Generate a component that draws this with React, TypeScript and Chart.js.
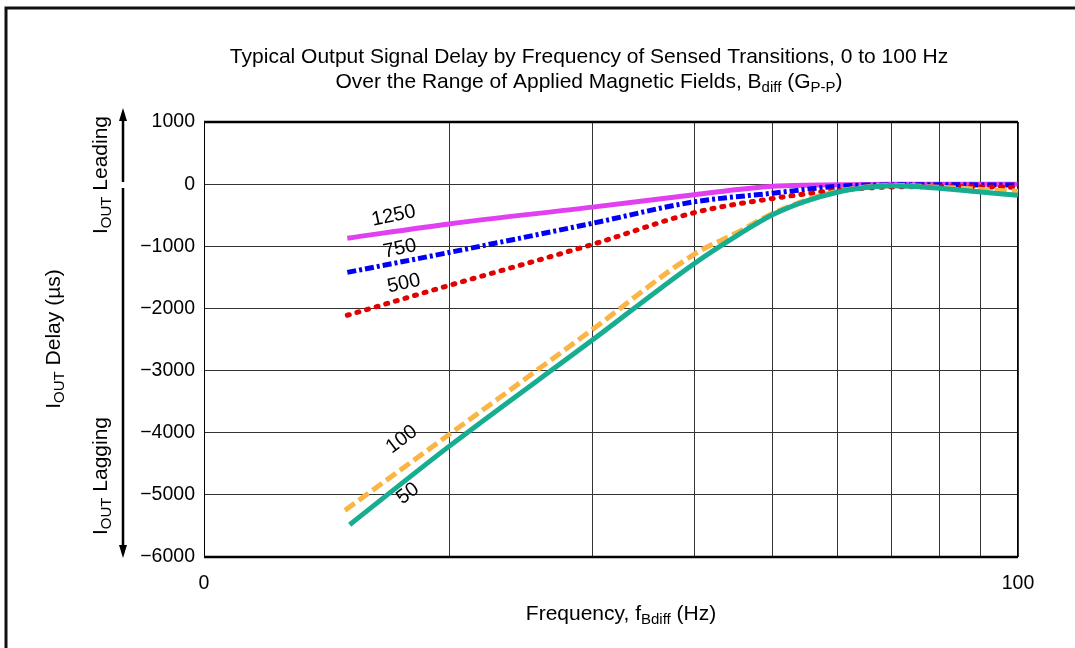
import React, { useEffect, useRef } from 'react';
import { Chart, registerables } from 'chart.js';

Chart.register(...registerables);

const FONT = '"Liberation Sans", Arial, Helvetica, sans-serif';

// Frequency (Hz) and output delay (µs) for each applied field B_diff (G P-P)
const FREQ_1250 = [15, 20, 30, 40, 50, 60, 70, 80, 100];
const DELAY_1250 = [-870, -640, -370, -170, -35, -10, 0, 0, 0];

const FREQ_750 = [15, 20, 30, 40, 50, 60, 70, 80, 100];
const DELAY_750 = [-1420, -1100, -630, -285, -145, -35, -12, -10, -15];

const FREQ_500 = [15, 20, 30, 40, 50, 60, 70, 80, 90, 100];
const DELAY_500 = [-2110, -1630, -970, -460, -230, -100, -45, -40, -45, -50];

const FREQ_100 = [14.9, 20, 30, 40, 45, 50, 55, 60, 65, 70, 80, 90, 100];
const DELAY_100 = [-5250, -4030, -2340, -1130, -790, -470, -255, -115, -45, -20, -50, -85, -115];

const FREQ_50 = [15.1, 20, 30, 40, 45, 50, 55, 60, 65, 70, 80, 90, 100];
const DELAY_50 = [-5480, -4220, -2510, -1280, -840, -490, -270, -130, -55, -25, -65, -125, -180];

const X_GRID = [10, 20, 30, 40, 50, 60, 70, 80, 90, 100];
const X_LABELS: Record<number, string> = { 10: '0', 100: '100' };
const Y_MIN = -6000;
const Y_MAX = 1000;
const Y_STEP = 1000;

const CURVE_LABELS = ['1250', '750', '500', '100', '50'];
const LABEL_FREQ = [17.1, 17.4, 17.6, 17.5, 17.8];
const LABEL_DELAY = [-510, -1040, -1600, -4110, -4980];
const LABEL_ANGLE = [-12, -12, -12, -37, -37];

const toPts = (xs: number[], ys: number[]) => xs.map((x, i) => ({ x, y: ys[i] }));

type Part = { t: string; sub?: boolean };

function drawRich(ctx: CanvasRenderingContext2D, parts: Part[], cx: number, cy: number, angle: number, size = 21) {
  ctx.save();
  ctx.translate(cx, cy);
  ctx.rotate(angle);
  const subSize = Math.round(size * 0.72);
  let total = 0;
  const widths = parts.map((p) => {
    ctx.font = `${p.sub ? subSize : size}px ${FONT}`;
    const w = ctx.measureText(p.t).width;
    total += w;
    return w;
  });
  let x = -total / 2;
  ctx.textBaseline = 'middle';
  ctx.textAlign = 'left';
  ctx.fillStyle = '#000';
  parts.forEach((p, i) => {
    ctx.font = `${p.sub ? subSize : size}px ${FONT}`;
    ctx.fillText(p.t, x, p.sub ? size * 0.3 : 0);
    x += widths[i];
  });
  ctx.restore();
}

const decorPlugin = {
  id: 'decor',
  beforeDatasetsDraw(chart: any) {
    const { ctx, chartArea: a } = chart;
    ctx.save();
    ctx.strokeStyle = '#000';
    ctx.lineWidth = 1;
    ctx.beginPath();
    ctx.moveTo(a.left + 0.5, a.top);
    ctx.lineTo(a.left + 0.5, a.bottom);
    ctx.moveTo(a.right - 0.5, a.top);
    ctx.lineTo(a.right - 0.5, a.bottom);
    ctx.stroke();
    ctx.lineWidth = 2.5;
    ctx.beginPath();
    ctx.moveTo(a.left, a.top);
    ctx.lineTo(a.right, a.top);
    ctx.moveTo(a.left, a.bottom);
    ctx.lineTo(a.right, a.bottom);
    ctx.stroke();
    ctx.restore();
  },
  afterDraw(chart: any) {
    const { ctx, scales } = chart;
    const xs = scales.x;
    const ys = scales.y;
    ctx.save();
    // page frame (top and left)
    ctx.strokeStyle = '#111';
    ctx.lineWidth = 3;
    ctx.beginPath();
    ctx.moveTo(6, 648);
    ctx.lineTo(6, 8);
    ctx.lineTo(1075, 8);
    ctx.stroke();

    // titles
    drawRich(ctx, [{ t: 'Typical Output Signal Delay by Frequency of Sensed Transitions, 0 to 100 Hz' }], 589, 57, 0);
    drawRich(ctx, [
      { t: 'Over the Range of Applied Magnetic Fields, B' },
      { t: 'diff', sub: true },
      { t: ' (G' },
      { t: 'P-P', sub: true },
      { t: ')' },
    ], 589, 82, 0);

    // axis titles
    drawRich(ctx, [{ t: 'Frequency, f' }, { t: 'Bdiff', sub: true }, { t: ' (Hz)' }], 621, 614, 0);
    drawRich(ctx, [{ t: 'I' }, { t: 'OUT', sub: true }, { t: ' Delay (µs)' }], 54, 339, -Math.PI / 2);
    drawRich(ctx, [{ t: 'I' }, { t: 'OUT', sub: true }, { t: ' Leading' }], 101, 175, -Math.PI / 2);
    drawRich(ctx, [{ t: 'I' }, { t: 'OUT', sub: true }, { t: ' Lagging' }], 101, 476, -Math.PI / 2);

    // arrows
    ctx.strokeStyle = '#000';
    ctx.fillStyle = '#000';
    ctx.lineWidth = 2.5;
    ctx.beginPath();
    ctx.moveTo(123, 116);
    ctx.lineTo(123, 182);
    ctx.moveTo(123, 188);
    ctx.lineTo(123, 550);
    ctx.stroke();
    ctx.beginPath();
    ctx.moveTo(123, 108);
    ctx.lineTo(119, 121);
    ctx.lineTo(127, 121);
    ctx.closePath();
    ctx.fill();
    ctx.beginPath();
    ctx.moveTo(123, 558);
    ctx.lineTo(119, 545);
    ctx.lineTo(127, 545);
    ctx.closePath();
    ctx.fill();

    // curve labels
    CURVE_LABELS.forEach((lbl, i) => {
      const px = xs.getPixelForValue(LABEL_FREQ[i]);
      const py = ys.getPixelForValue(LABEL_DELAY[i]);
      drawRich(ctx, [{ t: lbl }], px, py, (LABEL_ANGLE[i] * Math.PI) / 180, 20);
    });
    ctx.restore();
  },
};

export default function App() {
  const ref = useRef<HTMLCanvasElement | null>(null);
  useEffect(() => {
    if (!ref.current) return;
    const common = { pointRadius: 0, borderWidth: 5, fill: false, cubicInterpolationMode: 'monotone' };
    const chart = new Chart(ref.current, {
      type: 'line',
      data: {
        datasets: [
          { ...common, label: '50', data: toPts(FREQ_50, DELAY_50), borderColor: '#17ad90', order: 1 },
          { ...common, label: '100', data: toPts(FREQ_100, DELAY_100), borderColor: '#fbb545', borderDash: [12, 5], order: 2 },
          { ...common, label: '500', data: toPts(FREQ_500, DELAY_500), borderColor: '#e20000', borderDash: [2, 8], borderCapStyle: 'round', order: 3 },
          { ...common, label: '750', data: toPts(FREQ_750, DELAY_750), borderColor: '#0000f5', borderDash: [9, 3, 3, 3], order: 4 },
          { ...common, label: '1250', data: toPts(FREQ_1250, DELAY_1250), borderColor: '#e040ef', order: 5 },
        ] as any,
      },
      options: {
        animation: false,
        responsive: false,
        devicePixelRatio: 1,
        layout: { padding: { top: 122, right: 57, left: 0, bottom: 0 } },
        plugins: { legend: { display: false }, tooltip: { enabled: false }, title: { display: false } },
        scales: {
          x: {
            type: 'logarithmic',
            min: 10,
            max: 100,
            afterFit: (s: any) => { s.height = 91; },
            afterBuildTicks: (s: any) => { s.ticks = X_GRID.map((v) => ({ value: v })); },
            border: { display: false },
            grid: { color: '#333', lineWidth: 1, drawTicks: false },
            ticks: {
              autoSkip: false,
              maxRotation: 0,
              padding: 15,
              color: '#000',
              font: { size: 19.5, family: FONT },
              callback: (v: any) => X_LABELS[Number(v)] ?? '',
            },
          },
          y: {
            min: Y_MIN,
            max: Y_MAX,
            afterFit: (s: any) => { s.width = 204; },
            border: { display: false },
            grid: { color: '#333', lineWidth: 1, drawTicks: false },
            ticks: {
              stepSize: Y_STEP,
              padding: 9,
              color: '#000',
              font: { size: 19.5, family: FONT },
              callback: (v: any) => (Number(v) < 0 ? '\u2212' + Math.abs(Number(v)) : String(v)),
            },
          },
        } as any,
      },
      plugins: [decorPlugin],
    });
    return () => chart.destroy();
  }, []);
  return (
    <div style={{ position: 'absolute', left: 0, top: 0, width: 1075, height: 648, background: '#fff' }}>
      <canvas ref={ref} width={1075} height={648} style={{ display: 'block' }} />
    </div>
  );
}
